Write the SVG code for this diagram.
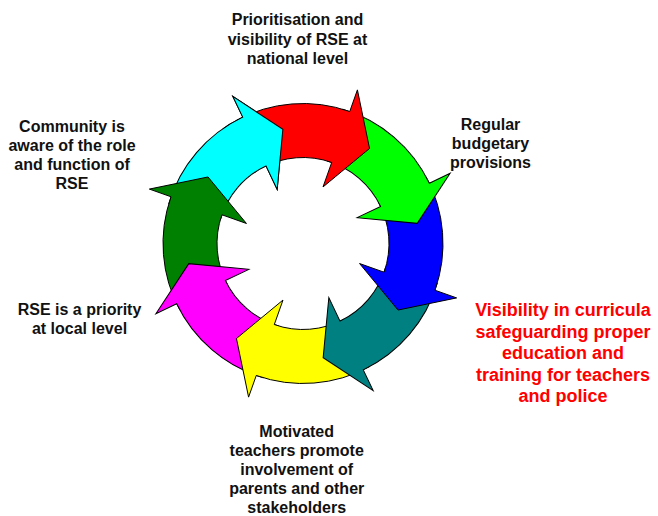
<svg xmlns="http://www.w3.org/2000/svg" xmlns:xlink="http://www.w3.org/1999/xlink" width="658" height="516" viewBox="0 0 658 516">
  <style>
    .arrow { stroke: #000000; stroke-width: 1; stroke-linejoin: miter; }
    .lbl { font-family: "Liberation Sans", Arial, sans-serif; font-weight: bold; font-size: 16px; fill: #111111; text-anchor: middle; }
    .lbl-red { font-family: "Liberation Sans", Arial, sans-serif; font-weight: bold; font-size: 18px; fill: #FF0000; text-anchor: middle; }
  </style>
  <defs>
    <path id="arrow" d="M 236.19 120.47 A 140 140 0 0 1 349.73 111.54 L 357.41 89.86 L 369.54 148.47 L 323.03 186.94 L 331.71 162.44 A 86 86 0 0 0 261.96 167.92 Z"/>
    <clipPath id="headclip">
      <polygon points="303,243.5 346.4,-2.7 453,-16.3 494.5,82.8"/>
    </clipPath>
  </defs>
  <rect width="658" height="516" fill="#FFFFFF"/>

  <g id="node-cyan" transform="rotate(315 303 243.5)">
    <use href="#arrow" class="arrow" fill="#00FFFF"/>
  </g>
  <g id="node-darkgreen" transform="rotate(270 303 243.5)">
    <use href="#arrow" class="arrow" fill="#008000"/>
  </g>
  <g id="node-magenta" transform="rotate(225 303 243.5)">
    <use href="#arrow" class="arrow" fill="#FF00FF"/>
  </g>
  <g id="node-yellow" transform="rotate(180 303 243.5)">
    <use href="#arrow" class="arrow" fill="#FFFF00"/>
  </g>
  <g id="node-teal" transform="rotate(135 303 243.5)">
    <use href="#arrow" class="arrow" fill="#008080"/>
  </g>
  <g id="node-blue" transform="rotate(90 303 243.5)">
    <use href="#arrow" class="arrow" fill="#0000FF"/>
  </g>
  <g id="node-green" transform="rotate(45 303 243.5)">
    <use href="#arrow" class="arrow" fill="#00FF00"/>
  </g>
  <g id="node-red">
    <use href="#arrow" class="arrow" fill="#FF0000"/>
  </g>
  <g id="node-cyan-head" transform="rotate(315 303 243.5)">
    <use href="#arrow" class="arrow" fill="#00FFFF" clip-path="url(#headclip)"/>
  </g>

  <g id="labels">
    <text class="lbl" x="297.5" y="25">Prioritisation and</text>
    <text class="lbl" x="297.5" y="44.5">visibility of RSE at</text>
    <text class="lbl" x="297.5" y="64">national level</text>

    <text class="lbl" x="490.5" y="130">Regular</text>
    <text class="lbl" x="490.5" y="149">budgetary</text>
    <text class="lbl" x="490.5" y="168">provisions</text>

    <text class="lbl-red" x="563" y="316">Visibility in curricula</text>
    <text class="lbl-red" x="563" y="337.5">safeguarding proper</text>
    <text class="lbl-red" x="563" y="359">education and</text>
    <text class="lbl-red" x="563" y="380.5">training for teachers</text>
    <text class="lbl-red" x="563" y="402">and police</text>

    <text class="lbl" x="296.7" y="437">Motivated</text>
    <text class="lbl" x="296.7" y="456">teachers promote</text>
    <text class="lbl" x="296.7" y="475">involvement of</text>
    <text class="lbl" x="296.7" y="494">parents and other</text>
    <text class="lbl" x="296.7" y="513">stakeholders</text>

    <text class="lbl" x="79.5" y="315">RSE is a priority</text>
    <text class="lbl" x="79.5" y="334">at local level</text>

    <text class="lbl" x="72" y="132">Community is</text>
    <text class="lbl" x="72" y="151">aware of the role</text>
    <text class="lbl" x="72" y="170">and function of</text>
    <text class="lbl" x="72" y="189">RSE</text>
  </g>
</svg>
